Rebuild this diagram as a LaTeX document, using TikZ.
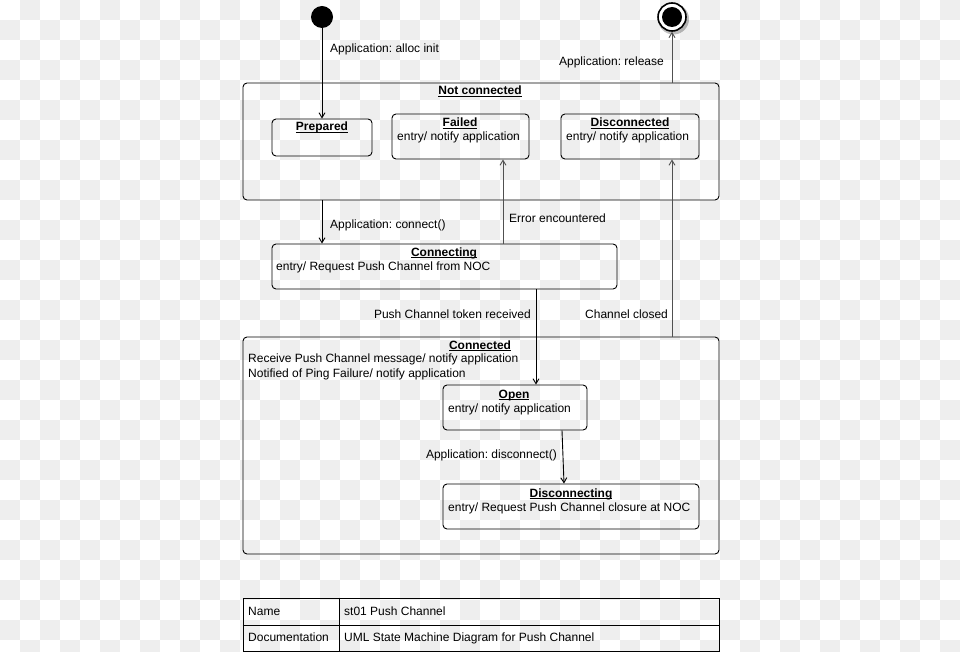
\documentclass[tikz,border=0pt]{standalone}
\usepackage{fontspec}
\setmainfont{Liberation Sans}
\usetikzlibrary{arrows.meta}
\definecolor{checkgray}{RGB}{238,238,238}
\definecolor{linegray}{RGB}{80,80,80}
\newcommand\myul[1]{\setbox0\hbox{#1}\rlap{\rule[-1.8pt]{\wd0}{0.8pt}}\box0}
\frenchspacing
\begin{document}
\frenchspacing
\begin{tikzpicture}[x=1pt,y=-1pt,
  txt/.style={font=\fontsize{12}{14}\selectfont\frenchspacing, inner sep=0pt},
  statebox/.style={draw=black, line width=0.9pt, rounded corners=4pt, inner sep=0pt},
  trans/.style={draw=black, line width=0.9pt, -{Straight Barb[length=5pt,width=6pt,line width=0.9pt]}},
  transg/.style={trans, draw=linegray},
]
\useasboundingbox (0,0) rectangle (960,652);
\begin{scope}
\clip (0,0) rectangle (960,652);
\fill[white] (0,0) rectangle (960,652);
\foreach \j in {0,...,32}{\foreach \i in {0,...,47}{%
  \pgfmathtruncatemacro\odd{mod(\i+\j,2)}%
  \ifnum\odd=1 \fill[checkgray] (\i*20,\j*20) rectangle ++(20,20);\fi}}
\end{scope}

% initial and final states
\node[circle, fill=black, minimum size=22pt, inner sep=0pt] (init) at (322,17) {};
\fill[black, opacity=0.25] (673.5,19) circle (15.5);
\node[circle, draw=black, line width=1.6pt, fill=white, minimum size=28pt, inner sep=0pt] (final) at (672,17) {};
\node[circle, fill=black, minimum size=20pt, inner sep=0pt] (finalin) at (672,17) {};

% state boxes
\node[statebox, minimum width=476pt, minimum height=117pt] (notconn) at (481,141.5) {};
\node[statebox, minimum width=100pt, minimum height=37pt] (prepared) at (322,137.5) {};
\node[statebox, minimum width=137pt, minimum height=45pt] (failed) at (460.5,136.5) {};
\node[statebox, minimum width=138pt, minimum height=45pt] (disconn) at (630,136.5) {};
\node[statebox, minimum width=345pt, minimum height=45pt] (connecting) at (444.5,266.5) {};
\node[statebox, minimum width=476pt, minimum height=217pt] (connected) at (481,445.5) {};
\node[statebox, minimum width=144pt, minimum height=45pt] (open) at (515,407.5) {};
\node[statebox, minimum width=256pt, minimum height=45pt] (disconnecting) at (571,506.5) {};

% titles
\node[txt, anchor=base] (tnc) at (480,95) {\myul{\textbf{Not connected}}};
\node[txt, anchor=base] (tprep) at (322,131) {\myul{\textbf{Prepared}}};
\node[txt, anchor=base] (tfail) at (460,127) {\myul{\textbf{Failed}}};
\node[txt, anchor=base] (tdisc) at (630,127) {\myul{\textbf{Disconnected}}};
\node[txt, anchor=base] (tconnecting) at (444,256) {\myul{\textbf{Connecting}}};
\node[txt, anchor=base] (tconnected) at (480,349) {\myul{\textbf{Connected}}};
\node[txt, anchor=base] (topen) at (514,398) {\myul{\textbf{Open}}};
\node[txt, anchor=base] (tdiscing) at (571,497) {\myul{\textbf{Disconnecting}}};

% entries
\node[txt, anchor=base west] (efail) at (397,141) {entry/ notify application};
\node[txt, anchor=base west] (edisc) at (566,141) {entry/ notify application};
\node[txt, anchor=base west] (econnecting) at (276,270) {entry/ Request Push Channel from NOC};
\node[txt, anchor=base west] (econ1) at (248,362) {Receive Push Channel message/ notify application};
\node[txt, anchor=base west] (econ2) at (248,377) {Notified of Ping Failure/ notify application};
\node[txt, anchor=base west] (eopen) at (448,412) {entry/ notify application};
\node[txt, anchor=base west] (ediscing) at (448,511) {entry/ Request Push Channel closure at NOC};

% connector x positions
\coordinate (errx) at (503,0);
\coordinate (closx) at (672,0);
\coordinate (tokx) at (536,0);
\coordinate (dis1) at (562,0);
\coordinate (dis2) at (564,0);

% transitions
\draw[trans] (init) -- (prepared);
\draw[transg] (notconn.north -| final) -- (final);
\draw[trans] (notconn.south -| prepared) -- (connecting.north -| prepared);
\draw[transg] (connecting.north -| errx) -- (failed.south -| errx);
\draw[transg] (connected.north -| closx) -- (disconn.south -| closx);
\draw[trans] (connecting.south -| tokx) -- (open.north -| tokx);
\draw[trans] (open.south -| dis1) -- (disconnecting.north -| dis2);

% transition labels
\node[txt, anchor=base west] (lalloc) at (330,52.5) {Application: alloc init};
\node[txt, anchor=base east] (lrel) at (664,66) {Application: release};
\node[txt, anchor=base west] (lconn) at (330,229) {Application: connect()};
\node[txt, anchor=base west] (lerr) at (509,222.5) {Error encountered};
\node[txt, anchor=base east] (ltok) at (531,318) {Push Channel token received};
\node[txt, anchor=base west] (lclos) at (585,318) {Channel closed};
\node[txt, anchor=base east] (ldis) at (557,458) {Application: disconnect()};

% info table
\node[draw=black, line width=0.9pt, minimum width=476pt, minimum height=53pt, inner sep=0pt] (table) at (481,624.5) {};
\draw[line width=0.9pt] (table.west |- 0,625) -- (table.east |- 0,625);
\draw[line width=0.9pt] (table.north -| 339,0) -- (table.south -| 339,0);
\node[txt, anchor=base west] (kname) at (248,615.5) {Name};
\node[txt, anchor=base west] (kdoc) at (248,641) {Documentation};
\node[txt, anchor=base west] (vname) at (344,615.5) {st01 Push Channel};
\node[txt, anchor=base west] (vdoc) at (344,641) {UML State Machine Diagram for Push Channel};
\end{tikzpicture}
\end{document}
